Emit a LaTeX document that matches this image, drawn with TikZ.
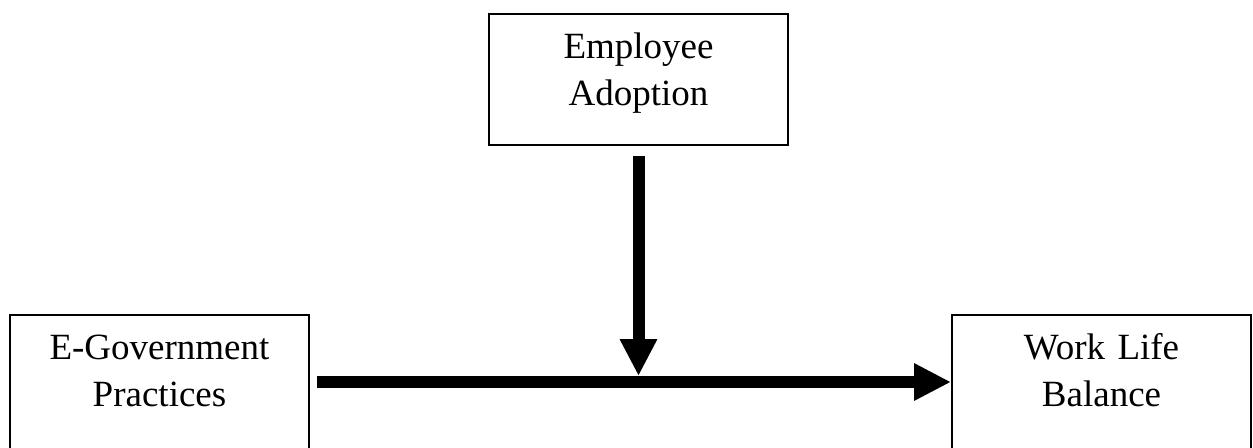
\documentclass[tikz,border=0pt]{standalone}
\usepackage{fontspec}
\setmainfont{Liberation Serif}
\usetikzlibrary{arrows.meta}
\begin{document}
\begin{tikzpicture}[x=0.5pt, y=-0.5pt,
    varbox/.style={draw, line width=1pt, anchor=north, inner sep=0pt,
        text width=149.5pt, align=center, text height=22pt, text depth=43.5pt,
        font=\fontsize{18.5pt}{23.5pt}\selectfont},
    bigarrow/.style={line width=6pt, -{Triangle[length=18.5pt, width=17.5pt]}}]
    \useasboundingbox (0,0) rectangle (1253,447);
    % Variables
    \node[varbox] (emp)  at (638.5,13)  {Employee\\Adoption};
    \node[varbox, text depth=45pt] (egov) at (159.5,314) {E-Government\\Practices};
    \node[varbox, text depth=45pt] (wlb)  at (1101.5,314) {Work Life\\Balance};
    % Main path and moderator
    \draw[bigarrow] ([xshift=3.5pt]egov.east) -- (wlb.west);
    \coordinate (meet) at (emp.south |- egov.east);
    \draw[bigarrow] ([yshift=-5pt]emp.south) -- ([yshift=3pt]meet);
\end{tikzpicture}
\end{document}
